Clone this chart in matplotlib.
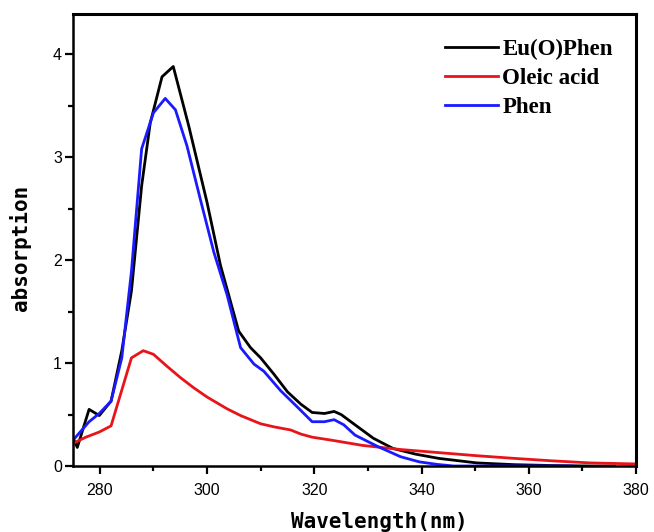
import matplotlib.pyplot as plt
from matplotlib.ticker import MultipleLocator

# wavelength (nm) / absorption
eu_x = [275.2, 275.8, 278.0, 279.9, 282.1, 284.1, 285.9, 287.8, 289.4, 291.6, 293.7,
        296.6, 300.0, 302.5, 305.9, 308.1, 310.0, 312.5, 315.0, 317.5, 319.6, 321.9,
        323.7, 325.0, 327.6, 331.0, 334.7, 338.9, 343.2, 350.3, 357.3, 364.0, 371.5, 376.0]
eu_y = [0.25, 0.18, 0.55, 0.49, 0.63, 1.12, 1.70, 2.72, 3.33, 3.78, 3.88,
        3.30, 2.56, 1.95, 1.31, 1.15, 1.05, 0.89, 0.72, 0.60, 0.52, 0.51,
        0.53, 0.50, 0.40, 0.27, 0.17, 0.115, 0.074, 0.03, 0.013, 0.005, 0.0, 0.0]

oa_x = [275.0, 277.4, 279.9, 282.1, 285.9, 288.1, 290.0, 292.5, 295.0, 297.5, 300.0,
        303.75, 306.25, 310.0, 312.5, 315.6, 317.5, 319.6, 323.3, 329.0, 336.1, 343.2,
        350.3, 357.3, 364.4, 371.5, 380.0]
oa_y = [0.22, 0.28, 0.33, 0.39, 1.05, 1.12, 1.085, 0.97, 0.86, 0.76, 0.67,
        0.555, 0.49, 0.41, 0.38, 0.35, 0.31, 0.28, 0.25, 0.20, 0.16, 0.13,
        0.10, 0.074, 0.05, 0.03, 0.02]

ph_x = [275.0, 278.0, 279.9, 282.1, 284.1, 285.9, 287.8, 290.0, 292.2, 294.1, 296.25,
        298.75, 301.25, 303.75, 306.25, 308.75, 310.6, 313.75, 316.9, 319.6, 321.9,
        323.7, 325.5, 327.6, 331.8, 336.1, 339.6, 343.0, 346.0, 368.0]
ph_y = [0.25, 0.43, 0.51, 0.63, 1.05, 1.89, 3.08, 3.43, 3.57, 3.46, 3.11,
        2.59, 2.08, 1.66, 1.15, 0.99, 0.92, 0.73, 0.57, 0.43, 0.43,
        0.45, 0.40, 0.30, 0.19, 0.09, 0.04, 0.015, 0.0, 0.0]

labels = ["Eu(O)Phen", "Oleic acid", "Phen"]
colors = ["#000000", "#e8141a", "#1a1aff"]

fig = plt.figure(figsize=(6.54, 5.32), dpi=100)
ax = fig.add_axes([73 / 654, 1 - 466 / 532, 563 / 654, 452 / 532])

ax.plot(eu_x, eu_y, color=colors[0], lw=2.0, label=labels[0])
ax.plot(oa_x, oa_y, color=colors[1], lw=2.0, label=labels[1])
ax.plot(ph_x, ph_y, color=colors[2], lw=2.0, label=labels[2])

ax.set_xlim(275, 380)
ax.set_ylim(0, 4.39)
ax.xaxis.set_major_locator(MultipleLocator(20))
ax.xaxis.set_minor_locator(MultipleLocator(10))
ax.yaxis.set_major_locator(MultipleLocator(1))
ax.yaxis.set_minor_locator(MultipleLocator(0.5))
ax.tick_params(which="major", direction="out", length=6, width=1.6,
               labelsize=11.5, pad=2)
ax.tick_params(axis="x", which="major", pad=6)
ax.tick_params(which="minor", direction="out", length=3.5, width=1.6)
for lab in ax.get_xticklabels() + ax.get_yticklabels():
    lab.set_family("Liberation Sans")

for s in ["left", "bottom"]:
    ax.spines[s].set_linewidth(1.8)
for s in ["top", "right"]:
    ax.spines[s].set_linewidth(2.2)

ax.set_xlabel("Wavelength(nm)", family="DejaVu Sans Mono", fontweight="bold", fontsize=15)
ax.set_ylabel("absorption", family="DejaVu Sans Mono", fontweight="bold", fontsize=15)
ax.xaxis.set_label_coords((379 - 73) / 563, -46 / 452)
ax.yaxis.set_label_coords(-42 / 563, (466 - 248) / 452)

ax.legend(loc="upper left", bbox_to_anchor=((445 - 73) / 563, (466 - 39) / 452),
          frameon=False, borderpad=0, borderaxespad=0, handlelength=2.3,
          handletextpad=0.2, labelspacing=0.35,
          prop={"family": "Liberation Serif", "weight": "bold", "size": 16.5})

fig.savefig("out.png", dpi=100)
